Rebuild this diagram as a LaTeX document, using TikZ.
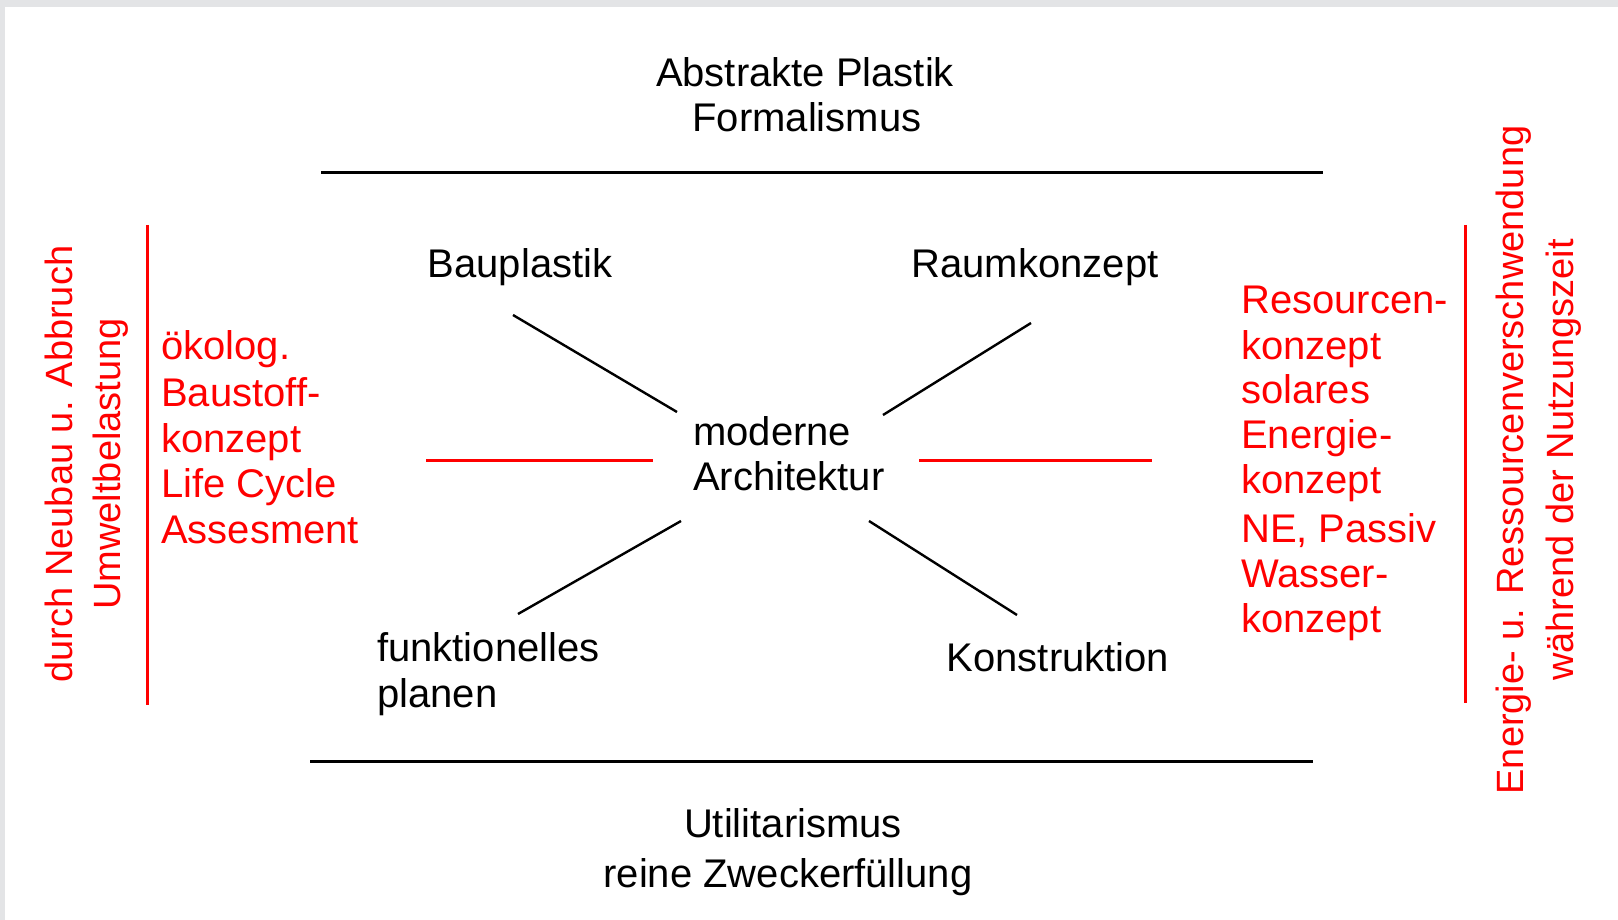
\documentclass[tikz,border=0pt]{standalone}
\usepackage{fontspec}
\setmainfont{Liberation Sans}
\definecolor{bggray}{HTML}{E3E4E6}
\definecolor{pred}{HTML}{FF0000}
\begin{document}
\begin{tikzpicture}[x=1pt,y=-1pt,
  txt/.style={inner sep=0pt, font=\fontsize{40}{46}\selectfont},
  blk/.style={txt, text=black},
  rtxt/.style={txt, text=pred},
  vtxt/.style={inner sep=0pt, font=\fontsize{38}{46}\selectfont, text=pred, rotate=90, anchor=base},
  bline/.style={draw=black, line width=3pt},
  rline/.style={draw=pred, line width=3pt},
  dline/.style={draw=black, line width=2.4pt}]
\useasboundingbox (0,0) rectangle (1618,920);
\fill[bggray] (0,0) rectangle (1618,920);
\fill[white] (5,7) rectangle (1618,920);

% top and bottom titles
\node[blk, anchor=base] (t1) at (805,87) {Abstrakte Plastik};
\node[blk, anchor=base] (t2) at (807,132) {Formalismus};
\node[blk, anchor=base] (b1) at (793,837) {Utilitarismus};
\node[blk, anchor=base] (b2) at (788,887) {reine Zweckerfüllung};

% black horizontal lines
\coordinate (tl) at (321,173);
\coordinate (tr) at (1323,173);
\coordinate (bl) at (310,761);
\coordinate (br) at (1313,761);
\draw[bline] (tl) -- (tr);
\draw[bline] (bl) -- (br);

% center
\node[blk, anchor=base west] (c1) at (693,445) {moderne};
\node[blk, anchor=base west] (c2) at (693,490) {Architektur};

\node[blk, anchor=base] (n1) at (520,277) {Bauplastik};
\node[blk, anchor=base] (n2) at (1035,277) {Raumkonzept};
\node[blk, anchor=base west] (n3a) at (377,661) {funktionelles};
\node[blk, anchor=base west] (n3b) at (377,707) {planen};
\node[blk, anchor=base] (n4) at (1058,671) {Konstruktion};

% diagonals
\coordinate (d1a) at (513,315);
\coordinate (d1b) at (677,412);
\coordinate (d2a) at (1031,323);
\coordinate (d2b) at (883,415);
\coordinate (d3a) at (681,521);
\coordinate (d3b) at (518,614);
\coordinate (d4a) at (869,521);
\coordinate (d4b) at (1017,615);
\draw[dline] (d1a) -- (d1b);
\draw[dline] (d2a) -- (d2b);
\draw[dline] (d3a) -- (d3b);
\draw[dline] (d4a) -- (d4b);

% red horizontal lines
\coordinate (rl1) at (426,460);
\coordinate (rl2) at (653,460);
\coordinate (rr1) at (919,460);
\coordinate (rr2) at (1152,460);
\draw[rline] (rl1) -- (rl2);
\draw[rline] (rr1) -- (rr2);

% red vertical lines
\coordinate (vl1) at (147,225);
\coordinate (vl2) at (147,705);
\coordinate (vr1) at (1465,225);
\coordinate (vr2) at (1465,703);
\draw[rline] (vl1) -- (vl2);
\draw[rline] (vr1) -- (vr2);

% left red block
\node[rtxt, anchor=base west] (l1) at (161,359) {ökolog.};
\node[rtxt, anchor=base west] (l2) at (161,406) {Baustoff-};
\node[rtxt, anchor=base west] (l3) at (161,452) {konzept};
\node[rtxt, anchor=base west] (l4) at (161,497) {Life Cycle};
\node[rtxt, anchor=base west] (l5) at (161,543) {Assesment};

% right red block
\node[rtxt, anchor=base west] (r1) at (1241,313) {Resourcen-};
\node[rtxt, anchor=base west] (r2) at (1241,359) {konzept};
\node[rtxt, anchor=base west] (r3) at (1241,403) {solares};
\node[rtxt, anchor=base west] (r4) at (1241,448) {Energie-};
\node[rtxt, anchor=base west] (r5) at (1241,493) {konzept};
\node[rtxt, anchor=base west] (r6) at (1241,542) {NE, Passiv};
\node[rtxt, anchor=base west] (r7) at (1241,587) {Wasser-};
\node[rtxt, anchor=base west] (r8) at (1241,632) {konzept};

% vertical texts
\node[vtxt] (vl) at (72,464) {durch Neubau u. Abbruch};
\node[vtxt] (vu) at (120,464) {Umweltbelastung};
\node[vtxt] (ve) at (1523,460) {Energie- u. Ressourcenverschwendung};
\node[vtxt] (vw) at (1573,460) {während der Nutzungszeit};
\end{tikzpicture}
\end{document}
